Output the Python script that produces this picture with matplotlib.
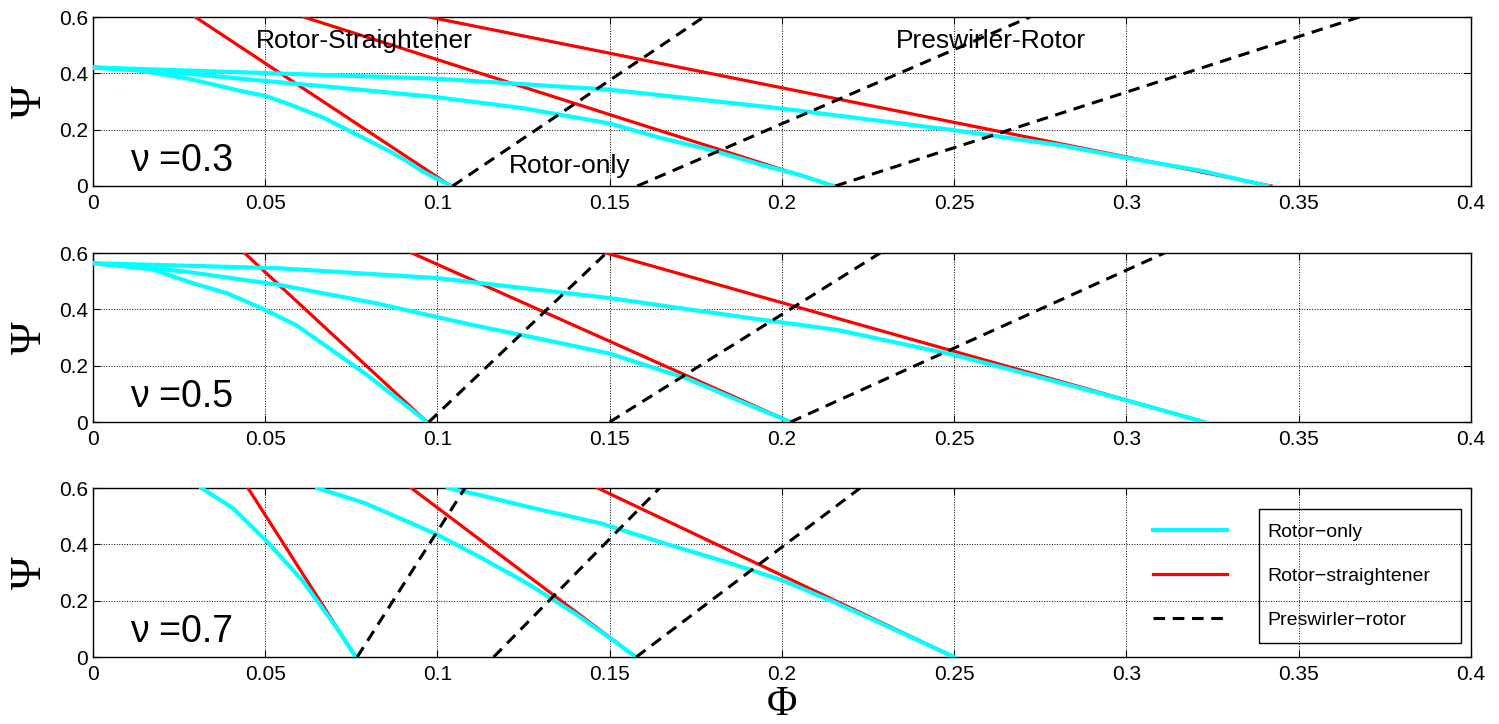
import matplotlib
matplotlib.use("Agg")
import matplotlib.pyplot as plt
from matplotlib.patches import Rectangle

plt.rcParams['font.family'] = ['Liberation Sans', 'DejaVu Sans']

# axis ticks
x_ticks = [0, 0.05, 0.1, 0.15, 0.2, 0.25, 0.3, 0.35, 0.4]
x_tick_labels = ['0', '0.05', '0.1', '0.15', '0.2', '0.25', '0.3', '0.35', '0.4']
y_ticks = [0, 0.2, 0.4, 0.6]
y_tick_labels = ['0', '0.2', '0.4', '0.6']

nu_values = [0.3, 0.5, 0.7]
legend_labels = ['Rotor\u2212only', 'Rotor\u2212straightener', 'Preswirler\u2212rotor']

# nu = 0.3 : rotor-only curves (phi, psi)
n03_ro1_phi = [0, 0.0136, 0.0281, 0.0427, 0.05, 0.057, 0.0668, 0.0765, 0.0862, 0.092, 0.0958, 0.1039]
n03_ro1_psi = [0.421, 0.41, 0.38, 0.338, 0.32, 0.29, 0.243, 0.183, 0.123, 0.081, 0.051, 0]
n03_ro2_phi = [0, 0.025, 0.05, 0.075, 0.1, 0.125, 0.15, 0.165, 0.18, 0.195, 0.205, 0.215]
n03_ro2_psi = [0.421, 0.402, 0.373, 0.345, 0.315, 0.276, 0.222, 0.17, 0.126, 0.072, 0.04, 0]
n03_ro3_phi = [0, 0.05, 0.1, 0.15, 0.2, 0.25, 0.2807, 0.3, 0.3222, 0.341]
n03_ro3_psi = [0.421, 0.401, 0.381, 0.342, 0.275, 0.198, 0.145, 0.1, 0.053, 0]
# rotor-straightener lines: phi at psi=0.6 and at psi=0
n03_rs_top = [0.0297, 0.0612, 0.0976]
n03_rs_bot = [0.1039, 0.215, 0.342]
# preswirler-rotor lines: phi at psi=0 and at psi=0.6
n03_pr_bot = [0.1044, 0.158, 0.2155]
n03_pr_top = [0.1773, 0.272, 0.3676]

# nu = 0.5
n05_ro1_phi = [0, 0.017, 0.029, 0.039, 0.049, 0.059, 0.068, 0.079, 0.089, 0.097]
n05_ro1_psi = [0.564, 0.543, 0.493, 0.457, 0.404, 0.344, 0.267, 0.172, 0.077, 0]
n05_ro2_phi = [0, 0.027, 0.054, 0.082, 0.11, 0.13, 0.15, 0.1725, 0.189, 0.2025]
n05_ro2_psi = [0.564, 0.534, 0.487, 0.422, 0.345, 0.295, 0.243, 0.154, 0.068, 0]
n05_ro3_phi = [0, 0.054, 0.1, 0.15, 0.189, 0.216, 0.25, 0.272, 0.3, 0.3226]
n05_ro3_psi = [0.564, 0.546, 0.511, 0.44, 0.372, 0.327, 0.238, 0.168, 0.077, 0]
n05_rs_top = [0.044, 0.0926, 0.149]
n05_rs_bot = [0.097, 0.2025, 0.3226]
n05_pr_bot = [0.0975, 0.15, 0.2025]
n05_pr_top = [0.149, 0.2285, 0.311]

# nu = 0.7
n07_ro1_phi = [0.0315, 0.0406, 0.051, 0.0607, 0.0704, 0.0763]
n07_ro1_psi = [0.6, 0.529, 0.404, 0.273, 0.11, 0]
n07_ro2_phi = [0.0651, 0.0788, 0.0913, 0.1, 0.112, 0.126, 0.14, 0.15, 0.1576]
n07_ro2_psi = [0.6, 0.547, 0.481, 0.434, 0.357, 0.262, 0.154, 0.068, 0]
n07_ro3_phi = [0.103, 0.112, 0.126, 0.1473, 0.1666, 0.185, 0.2, 0.215, 0.234, 0.25]
n07_ro3_psi = [0.6, 0.576, 0.534, 0.475, 0.401, 0.333, 0.273, 0.196, 0.09, 0]
n07_rs_top = [0.045, 0.0924, 0.1465]
n07_rs_bot = [0.0763, 0.1576, 0.25]
n07_pr_bot = [0.0767, 0.1163, 0.1577]
n07_pr_top = [0.108, 0.1645, 0.2227]

panels = [
    dict(ro=[(n03_ro1_phi, n03_ro1_psi), (n03_ro2_phi, n03_ro2_psi), (n03_ro3_phi, n03_ro3_psi)],
         rs=(n03_rs_top, n03_rs_bot), pr=(n03_pr_bot, n03_pr_top)),
    dict(ro=[(n05_ro1_phi, n05_ro1_psi), (n05_ro2_phi, n05_ro2_psi), (n05_ro3_phi, n05_ro3_psi)],
         rs=(n05_rs_top, n05_rs_bot), pr=(n05_pr_bot, n05_pr_top)),
    dict(ro=[(n07_ro1_phi, n07_ro1_psi), (n07_ro2_phi, n07_ro2_psi), (n07_ro3_phi, n07_ro3_psi)],
         rs=(n07_rs_top, n07_rs_bot), pr=(n07_pr_bot, n07_pr_top)),
]

fig = plt.figure(figsize=(14.99, 7.24), dpi=100)
bottoms = [0.7431, 0.4171, 0.0925]
serif = ['Liberation Serif', 'DejaVu Serif']

for i, p in enumerate(panels):
    ax = fig.add_axes([0.062, bottoms[i], 0.9193, 0.2334])
    for top, bot in zip(*p['rs']):
        h_rs, = ax.plot([top, bot], [0.6, 0], color='red', lw=2.3, zorder=3)
    for phi, psi in p['ro']:
        h_ro, = ax.plot(phi, psi, color='cyan', lw=3, zorder=4)
    for bot, top in zip(*p['pr']):
        h_pr, = ax.plot([bot, top], [0, 0.6], color='black', ls='--', lw=2.2,
                        dashes=(3.8, 2.5), zorder=5)
    ax.set_xlim(0, 0.4)
    ax.set_ylim(0, 0.6)
    ax.set_xticks(x_ticks)
    ax.set_xticklabels(x_tick_labels)
    ax.set_yticks(y_ticks)
    ax.set_yticklabels(y_tick_labels)
    ax.grid(True, linestyle=':', color='black', lw=0.7)
    ax.tick_params(direction='in', top=True, right=True, length=5, labelsize=15)
    ax.tick_params(axis='x', pad=6)
    for s in ax.spines.values():
        s.set_linewidth(1)
    ax.text(0.027, 0.09, '\u03bd =%.1f' % nu_values[i], transform=ax.transAxes,
            fontsize=27, va='baseline')
    ax.set_ylabel('\u03a8', fontsize=32, family=serif, va='center')
    ax.yaxis.set_label_coords(-0.046, 0.5)

    if i == 0:
        ax.text(0.0787, 0.489, 'Rotor-Straightener', fontsize=19, ha='center', va='baseline')
        ax.text(0.2607, 0.491, 'Preswirler-Rotor', fontsize=19, ha='center', va='baseline')
        ax.text(0.1385, 0.047, 'Rotor-only', fontsize=19, ha='center', va='baseline')
    if i == 2:
        ax.legend([h_ro, h_rs, h_pr], legend_labels, loc='center left',
                  bbox_to_anchor=(0.769, 0.479), frameon=False, fontsize=14,
                  handlelength=3.8, handletextpad=2.1, labelspacing=1.35,
                  borderpad=0, borderaxespad=0)
        ax.add_patch(Rectangle((0.846, 0.083), 0.1467, 0.793, transform=ax.transAxes,
                               fill=False, ec='black', lw=1, zorder=6))
        ax.set_xlabel('\u03a6', fontsize=30, family=serif)
        ax.xaxis.set_label_coords(0.5, -0.17)

fig.savefig('out.png', dpi=100)
